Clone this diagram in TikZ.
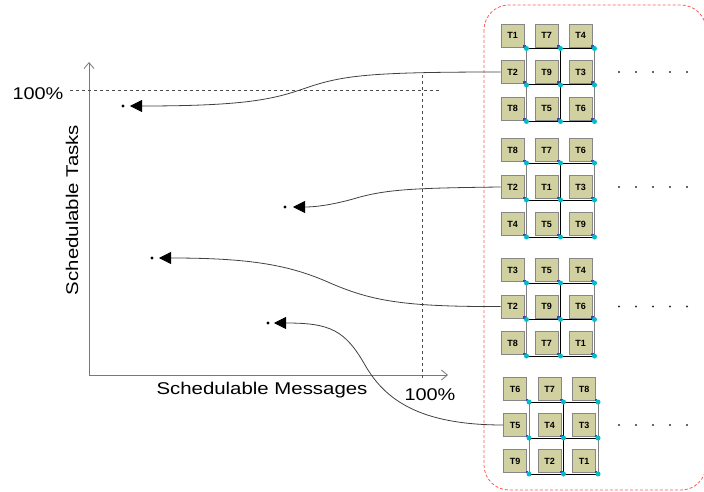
\documentclass[tikz,border=0pt]{standalone}
\usepackage{fontspec}
\setmainfont{Liberation Sans}
\usetikzlibrary{arrows.meta}
\definecolor{khaki}{RGB}{208,208,160}
\definecolor{boxborder}{RGB}{135,135,135}
\definecolor{redline}{RGB}{255,90,90}
\definecolor{cyanmark}{RGB}{0,190,200}
\definecolor{bluemark}{RGB}{70,60,200}
\definecolor{axisgray}{RGB}{120,120,120}
\tikzset{
  tbox/.style={draw=boxborder, fill=khaki, minimum size=23pt, inner sep=0pt,
    font=\fontsize{9}{10}\selectfont\bfseries, line width=0.9pt},
  gridline/.style={draw=black, line width=1pt},
  gridlinelight/.style={draw=black!50, line width=1pt},
  conn/.style={draw=black!75, line width=0.8pt, -{Triangle[length=12pt,width=12pt,color=black,fill=black]}},
  axis/.style={draw=axisgray, line width=0.8pt, -{Straight Barb[length=6pt,width=10pt]}},
  guide/.style={draw=black!70, line width=0.7pt, dash pattern=on 3pt off 3pt},
  bigtext/.style={font=\fontsize{17}{19}\selectfont, inner sep=0pt},
  dotmark/.style={fill=black, circle, inner sep=0pt, minimum size=3.2pt},
  frame/.style={draw=redline, line width=0.8pt, dash pattern=on 3pt off 2pt, rounded corners=25pt}
}
\newcommand\drawgrid[6]{%
  \foreach \lab [count=\k from 0] in {#6}{%
    \pgfmathtruncatemacro\cc{mod(\k,3)}%
    \pgfmathtruncatemacro\rr{div(\k,3)}%
    \node[tbox] (#1-\lab) at ({#2+\cc*#4},{#3+\rr*#5}) {\lab};
  }
  \foreach \i in {0,1,2}{%
    \draw[gridline] ({#2+14},{#3+13+\i*#5}) -- ({#2+14+2*#4},{#3+13+\i*#5});
  }
  \draw[gridlinelight] ({#2+14},{#3+13}) -- ({#2+14},{#3+13+2*#5});
  \draw[gridline] ({#2+14+#4},{#3+13}) -- ({#2+14+#4},{#3+13+2*#5});
  \draw[gridlinelight] ({#2+14+2*#4},{#3+13}) -- ({#2+14+2*#4},{#3+13+2*#5});
  \foreach \i in {0,1,2}{%
    \foreach \j in {0,1,2}{%
      \fill[bluemark] ({#2+10.5+\i*#4},{#3+9.5+\j*#5}) rectangle +(2.8,2.8);
      \fill[cyanmark] ({#2+14+\i*#4},{#3+13+\j*#5}) circle (2.5pt);
    }
  }
  \foreach \x in {619,636,653,670,687}{%
    \fill[black!80] (\x,{#3+#5}) circle (1.2pt);
  }
}
\begin{document}
\begin{tikzpicture}[x=1pt,y=-1pt]
\useasboundingbox (0,0) rectangle (704,492);
% red frame
\draw[frame] (484,5) rectangle (706,490);
% grids
\drawgrid{ga}{512.5}{35.5}{34}{36.5}{T1,T7,T4,T2,T9,T3,T8,T5,T6}
\drawgrid{gb}{512.5}{150}{34}{37}{T8,T7,T6,T2,T1,T3,T4,T5,T9}
\drawgrid{gc}{512.5}{270}{34}{36.5}{T3,T5,T4,T2,T9,T6,T8,T7,T1}
\drawgrid{gd}{515}{389}{34.5}{36}{T6,T7,T8,T5,T4,T3,T9,T2,T1}
% axes
\coordinate (origin) at (89,375);
\coordinate (ytop) at (89,62);
\coordinate (xend) at (448,375);
\draw[axis] (origin) -- (ytop);
\draw[axis] (origin) -- (xend);
% guides
\coordinate (hg1) at (70,90);
\coordinate (hg2) at (440,90);
\coordinate (vg1) at (422,75);
\coordinate (vg2) at (422,380);
\draw[guide] (hg1) -- (hg2);
\draw[guide] (vg1) -- (vg2);
% labels
\node[bigtext] (ylab100) at (38,94) {\scalebox{1.17}[1]{100\%}};
\node[bigtext] (xlab100) at (430,395) {\scalebox{1.17}[1]{100\%}};
\node[bigtext] (xlabel) at (262,390) {\scalebox{1.2}[1]{Schedulable Messages}};
\node[bigtext, rotate=90] (ylabel) at (72,210) {\scalebox{1.2}[1]{Schedulable Tasks}};
% points
\node[dotmark] (p1) at (123,106) {};
\node[dotmark] (p2) at (285,207) {};
\node[dotmark] (p3) at (152,258) {};
\node[dotmark] (p4) at (268,323) {};
\coordinate (tip1) at (130,106);
\coordinate (tip2) at (293,207);
\coordinate (tip3) at (159,258);
\coordinate (tip4) at (274,323);
% connectors
\draw[conn] (ga-T2.west) .. controls (360,72) and (340,76) .. (300,90)
   .. controls (270,100) and (240,106) .. (tip1);
\draw[conn] (gb-T2.west) .. controls (420,188) and (390,189) .. (360,197)
   .. controls (340,203) and (320,207) .. (tip2);
\draw[conn] (gc-T2.west) .. controls (400,307) and (370,300) .. (330,283)
   .. controls (290,265) and (250,258) .. (tip3);
\draw[conn] (gd-T5.west) .. controls (420,425) and (385,400) .. (365,365)
   .. controls (345,330) and (330,323) .. (tip4);
\end{tikzpicture}
\end{document}
